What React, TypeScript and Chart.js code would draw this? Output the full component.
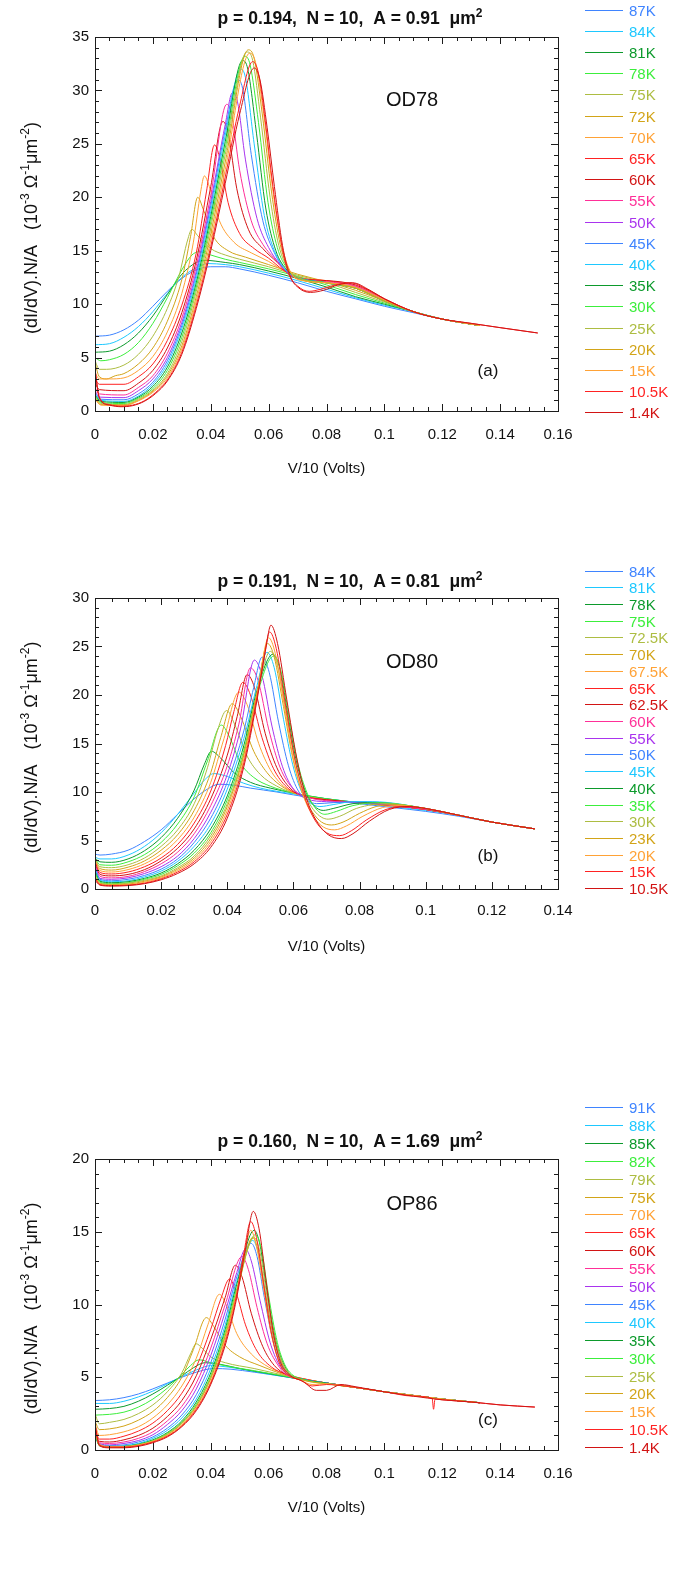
import React, { useEffect, useRef } from 'react';
import { Chart, registerables } from 'chart.js';

Chart.register(...registerables);

const FONT = '"Liberation Sans", Arial, Helvetica, sans-serif';
const PALETTE = ['#3f84ff', '#1ec8ff', '#0c9a2c', '#3cee3c', '#adbd42', '#d2a418', '#ffa236', '#ff2222', '#d21414', '#ff2f98', '#a934ee'];

type Pt = [number, number];

// ---------------- Panel (a) OD78 ----------------
const TEMPS_A = ['87K', '84K', '81K', '78K', '75K', '72K', '70K', '65K', '60K', '55K', '50K', '45K', '40K', '35K', '30K', '25K', '20K', '15K', '10.5K', '1.4K'];
const TAIL_A: Pt[] = [[0.11, 9.3], [0.12, 8.6], [0.133, 8.0]];
const TAIL_A_LONG: Pt[] = [[0.11, 9.3], [0.12, 8.6], [0.13, 8.2], [0.14, 7.8], [0.153, 7.3]];
const CURVES_A: Pt[][] = [
  [[0, 7.0], [0.005, 7.1], [0.01, 7.6], [0.015, 8.5], [0.02, 9.8], [0.025, 11.2], [0.03, 12.4], [0.035, 13.2], [0.04, 13.5], [0.045, 13.5], [0.05, 13.3], [0.06, 12.7], [0.07, 12.0], [0.08, 11.2], [0.09, 10.5], [0.1, 9.8], [0.11, 9.2], [0.12, 8.6], [0.133, 8.0]],
  [[0, 6.2], [0.005, 6.3], [0.01, 6.9], [0.015, 7.9], [0.02, 9.3], [0.025, 11.0], [0.03, 12.5], [0.035, 13.4], [0.039, 13.8], [0.045, 13.7], [0.05, 13.5], [0.06, 12.9], [0.07, 12.2], [0.08, 11.4], [0.09, 10.6], [0.1, 9.9], ...TAIL_A],
  [[0, 5.5], [0.005, 5.6], [0.01, 6.2], [0.015, 7.3], [0.02, 8.9], [0.025, 10.9], [0.03, 12.8], [0.035, 13.9], [0.038, 14.1], [0.045, 13.9], [0.05, 13.7], [0.06, 13.1], [0.07, 12.4], [0.08, 11.6], [0.09, 10.7], [0.1, 10.0], ...TAIL_A],
  [[0, 5.0], [0.002, 4.7], [0.005, 4.8], [0.01, 5.3], [0.015, 6.4], [0.02, 8.2], [0.025, 10.6], [0.03, 13.2], [0.0335, 14.6], [0.036, 14.9], [0.04, 14.6], [0.045, 14.2], [0.05, 13.9], [0.06, 13.3], [0.07, 12.6], [0.08, 11.8], [0.09, 10.9], [0.1, 10.1], ...TAIL_A],
  [[0, 4.7], [0.0015, 3.9], [0.004, 3.9], [0.01, 4.3], [0.015, 5.3], [0.02, 7.0], [0.025, 9.6], [0.029, 12.6], [0.032, 16.0], [0.0335, 17.0], [0.0355, 16.4], [0.04, 15.2], [0.045, 14.6], [0.05, 14.2], [0.06, 13.5], [0.07, 12.7], [0.08, 12.0], [0.09, 11.1], [0.1, 10.2], ...TAIL_A],
  [[0, 4.5], [0.0015, 3.2], [0.004, 3.0], [0.007, 3.3], [0.01, 3.5], [0.015, 4.4], [0.02, 5.9], [0.025, 8.4], [0.03, 12.3], [0.033, 16.3], [0.0355, 20.0], [0.0375, 18.8], [0.041, 16.3], [0.046, 15.0], [0.052, 14.4], [0.06, 13.7], [0.07, 12.8], [0.08, 12.1], [0.09, 11.3], [0.1, 10.3], ...TAIL_A],
  [[0, 3.6], [0.0015, 3.0], [0.005, 3.0], [0.01, 3.1], [0.015, 3.8], [0.02, 5.1], [0.025, 7.4], [0.03, 11.0], [0.034, 15.8], [0.0365, 20.5], [0.0378, 22.0], [0.0395, 21.0], [0.043, 17.8], [0.048, 15.8], [0.054, 14.8], [0.06, 14.0], [0.066, 13.0], [0.072, 12.4], [0.08, 12.2], [0.09, 11.5], [0.1, 10.3], ...TAIL_A],
  [[0, 3.0], [0.0015, 2.5], [0.01, 2.5], [0.015, 3.2], [0.02, 4.4], [0.025, 6.6], [0.03, 9.9], [0.035, 14.8], [0.0385, 20.5], [0.0413, 24.9], [0.043, 23.8], [0.046, 19.5], [0.05, 16.6], [0.055, 15.2], [0.06, 14.3], [0.065, 13.2], [0.07, 12.5], [0.08, 12.2], [0.09, 11.7], [0.1, 10.4], ...TAIL_A],
  [[0, 2.6], [0.0015, 2.0], [0.01, 1.9], [0.015, 2.6], [0.02, 3.8], [0.025, 5.9], [0.03, 9.2], [0.035, 14.1], [0.04, 21.0], [0.0442, 27.1], [0.046, 26.0], [0.049, 20.8], [0.053, 17.0], [0.058, 15.2], [0.063, 13.9], [0.067, 12.8], [0.072, 12.3], [0.08, 12.2], [0.09, 11.8], [0.1, 10.5], ...TAIL_A],
  [[0, 2.2], [0.0015, 1.6], [0.01, 1.5], [0.015, 2.2], [0.02, 3.3], [0.025, 5.4], [0.03, 8.7], [0.035, 13.6], [0.04, 20.2], [0.0455, 28.7], [0.0472, 27.8], [0.05, 22.5], [0.054, 17.8], [0.058, 15.6], [0.063, 14.0], [0.067, 12.8], [0.072, 12.3], [0.08, 12.1], [0.09, 11.7], [0.1, 10.4], ...TAIL_A],
  [[0, 1.9], [0.0015, 1.3], [0.01, 1.25], [0.015, 1.9], [0.02, 3.0], [0.025, 5.0], [0.03, 8.3], [0.035, 13.1], [0.04, 19.6], [0.045, 26.8], [0.0475, 29.8], [0.0492, 29.0], [0.052, 23.5], [0.056, 18.0], [0.06, 15.3], [0.064, 13.7], [0.068, 12.7], [0.08, 12.0], [0.09, 11.6], [0.1, 10.3], ...TAIL_A],
  [[0, 1.7], [0.002, 1.1], [0.01, 1.05], [0.015, 1.6], [0.02, 2.7], [0.025, 4.7], [0.03, 8.0], [0.035, 12.8], [0.04, 19.2], [0.045, 26.3], [0.0493, 31.0], [0.051, 30.2], [0.054, 24.0], [0.058, 17.8], [0.062, 14.8], [0.066, 13.1], [0.07, 12.5], [0.08, 12.0], [0.09, 11.5], [0.1, 10.3], ...TAIL_A],
  [[0, 1.6], [0.002, 1.0], [0.01, 0.9], [0.015, 1.4], [0.02, 2.5], [0.025, 4.4], [0.03, 7.7], [0.035, 12.4], [0.04, 18.7], [0.045, 25.8], [0.0503, 32.0], [0.052, 31.2], [0.055, 25.0], [0.0585, 18.3], [0.062, 15.0], [0.066, 13.2], [0.07, 12.5], [0.08, 12.0], [0.09, 11.5], [0.1, 10.3], ...TAIL_A],
  [[0, 1.5], [0.002, 0.9], [0.01, 0.8], [0.015, 1.3], [0.02, 2.3], [0.025, 4.1], [0.03, 7.3], [0.035, 12.0], [0.04, 18.2], [0.045, 25.2], [0.051, 32.8], [0.0528, 32.0], [0.0558, 26.0], [0.059, 19.0], [0.0625, 15.0], [0.066, 13.3], [0.07, 12.5], [0.08, 12.0], [0.09, 11.5], [0.1, 10.3], ...TAIL_A],
  [[0, 1.4], [0.002, 0.8], [0.01, 0.7], [0.015, 1.2], [0.02, 2.1], [0.025, 3.8], [0.03, 6.9], [0.035, 11.6], [0.04, 17.7], [0.045, 24.6], [0.0518, 33.2], [0.0536, 32.4], [0.0565, 27.0], [0.0598, 19.5], [0.063, 15.3], [0.0665, 13.3], [0.07, 12.5], [0.08, 12.0], [0.09, 11.5], [0.1, 10.3], ...TAIL_A],
  [[0, 1.3], [0.002, 0.7], [0.01, 0.6], [0.015, 1.1], [0.02, 1.95], [0.025, 3.5], [0.03, 6.5], [0.035, 11.2], [0.04, 17.2], [0.045, 24.0], [0.0525, 33.6], [0.0545, 32.8], [0.0572, 27.5], [0.0605, 20.0], [0.0635, 15.5], [0.067, 13.2], [0.071, 12.4], [0.08, 12.0], [0.09, 11.5], [0.1, 10.3], ...TAIL_A],
  [[0, 1.2], [0.002, 0.6], [0.01, 0.55], [0.015, 1.0], [0.02, 1.85], [0.025, 3.3], [0.03, 6.1], [0.035, 10.7], [0.04, 16.6], [0.045, 23.3], [0.053, 33.8], [0.055, 33.0], [0.0578, 27.8], [0.061, 20.5], [0.064, 15.6], [0.0675, 13.0], [0.072, 12.2], [0.08, 12.0], [0.09, 11.5], [0.1, 10.3], ...TAIL_A],
  [[0, 1.1], [0.002, 0.55], [0.01, 0.5], [0.015, 0.95], [0.02, 1.75], [0.025, 3.1], [0.03, 5.8], [0.035, 10.3], [0.04, 16.0], [0.045, 22.6], [0.0535, 33.5], [0.0555, 32.6], [0.0583, 27.8], [0.0613, 21.0], [0.0643, 15.8], [0.0678, 12.9], [0.072, 12.2], [0.08, 12.0], [0.09, 11.6], [0.1, 10.4], ...TAIL_A],
  [[0, 4.0], [0.0015, 1.3], [0.005, 0.6], [0.009, 0.45], [0.013, 0.55], [0.017, 0.95], [0.021, 1.75], [0.025, 2.9], [0.03, 5.5], [0.035, 9.9], [0.04, 15.4], [0.045, 21.9], [0.05, 28.6], [0.0545, 32.7], [0.0565, 31.6], [0.0588, 27.2], [0.0615, 21.0], [0.0645, 15.5], [0.067, 12.8], [0.07, 11.7], [0.074, 11.2], [0.078, 11.4], [0.083, 11.8], [0.088, 12.0], [0.094, 11.4], [0.1, 10.5], ...TAIL_A_LONG],
  [[0, 3.8], [0.0015, 1.2], [0.005, 0.55], [0.009, 0.4], [0.013, 0.5], [0.017, 0.9], [0.021, 1.65], [0.025, 2.8], [0.03, 5.3], [0.035, 9.6], [0.04, 15.0], [0.045, 21.3], [0.05, 27.8], [0.055, 32.1], [0.057, 31.0], [0.0595, 26.5], [0.062, 21.0], [0.0648, 15.5], [0.0675, 12.6], [0.0705, 11.5], [0.0745, 11.1], [0.079, 11.3], [0.084, 11.8], [0.089, 12.0], [0.095, 11.3], [0.1, 10.5], ...TAIL_A_LONG],
];

// ---------------- Panel (b) OD80 ----------------
const TEMPS_B = ['84K', '81K', '78K', '75K', '72.5K', '70K', '67.5K', '65K', '62.5K', '60K', '55K', '50K', '45K', '40K', '35K', '30K', '23K', '20K', '15K', '10.5K'];
const TAIL_B: Pt[] = [[0.11, 7.6], [0.12, 6.9], [0.133, 6.2]];
const CURVES_B: Pt[][] = [
  [[0, 3.6], [0.0015, 3.5], [0.005, 3.6], [0.01, 4.0], [0.015, 4.9], [0.02, 6.1], [0.025, 7.7], [0.03, 9.3], [0.034, 10.3], [0.0375, 10.8], [0.042, 10.7], [0.047, 10.4], [0.055, 10.0], [0.06, 9.7], [0.07, 9.2], [0.08, 8.8], [0.09, 8.4], [0.1, 8.0], [0.11, 7.5], [0.12, 6.9], [0.133, 6.2]],
  [[0, 3.3], [0.0015, 3.1], [0.005, 3.1], [0.01, 3.5], [0.015, 4.4], [0.02, 5.8], [0.025, 7.7], [0.03, 9.9], [0.033, 11.2], [0.036, 11.9], [0.04, 11.6], [0.045, 10.9], [0.05, 10.4], [0.06, 9.8], [0.07, 9.3], [0.08, 8.9], [0.09, 8.5], [0.1, 8.1], ...TAIL_B],
  [[0, 3.2], [0.0015, 2.8], [0.005, 2.75], [0.01, 3.1], [0.015, 3.95], [0.02, 5.3], [0.025, 7.3], [0.03, 10.2], [0.033, 12.8], [0.0352, 14.2], [0.038, 13.5], [0.042, 12.0], [0.047, 11.0], [0.053, 10.4], [0.06, 9.9], [0.07, 9.3], [0.08, 8.9], [0.09, 8.6], [0.1, 8.2], ...TAIL_B],
  [[0, 3.2], [0.0015, 2.5], [0.005, 2.45], [0.01, 2.8], [0.015, 3.55], [0.02, 4.8], [0.025, 6.7], [0.03, 9.5], [0.034, 13.2], [0.0382, 16.9], [0.0405, 15.8], [0.044, 13.0], [0.048, 11.5], [0.053, 10.6], [0.06, 9.9], [0.07, 9.3], [0.08, 8.9], [0.09, 8.6], [0.1, 8.2], ...TAIL_B],
  [[0, 3.1], [0.0015, 2.3], [0.005, 2.2], [0.01, 2.5], [0.015, 3.2], [0.02, 4.4], [0.025, 6.1], [0.03, 8.8], [0.034, 12.5], [0.037, 16.3], [0.0398, 18.4], [0.0422, 17.0], [0.046, 13.7], [0.05, 11.8], [0.055, 10.6], [0.06, 9.9], [0.07, 9.2], [0.08, 8.9], [0.09, 8.6], [0.1, 8.2], ...TAIL_B],
  [[0, 3.0], [0.0015, 2.1], [0.005, 1.95], [0.01, 2.25], [0.015, 2.9], [0.02, 4.0], [0.025, 5.6], [0.03, 8.1], [0.035, 12.0], [0.038, 15.6], [0.0415, 19.1], [0.044, 17.8], [0.048, 14.2], [0.052, 12.0], [0.056, 10.7], [0.061, 9.8], [0.07, 9.2], [0.08, 8.9], [0.09, 8.6], [0.1, 8.2], ...TAIL_B],
  [[0, 2.9], [0.0015, 1.9], [0.005, 1.75], [0.01, 2.0], [0.015, 2.6], [0.02, 3.6], [0.025, 5.1], [0.03, 7.4], [0.035, 11.0], [0.039, 15.5], [0.0435, 20.3], [0.046, 19.0], [0.0495, 15.0], [0.053, 12.3], [0.057, 10.6], [0.062, 9.7], [0.07, 9.2], [0.08, 8.9], [0.09, 8.6], [0.1, 8.2], ...TAIL_B],
  [[0, 2.8], [0.0015, 1.7], [0.005, 1.55], [0.01, 1.75], [0.015, 2.3], [0.02, 3.2], [0.025, 4.6], [0.03, 6.8], [0.035, 10.1], [0.0395, 14.8], [0.042, 18.3], [0.0447, 21.3], [0.047, 20.0], [0.0505, 15.6], [0.054, 12.4], [0.058, 10.5], [0.063, 9.6], [0.07, 9.2], [0.08, 8.9], [0.09, 8.6], [0.1, 8.2], ...TAIL_B],
  [[0, 2.6], [0.0015, 1.5], [0.005, 1.35], [0.01, 1.5], [0.015, 2.0], [0.02, 2.9], [0.025, 4.2], [0.03, 6.2], [0.035, 9.3], [0.04, 13.8], [0.043, 17.8], [0.046, 22.1], [0.0482, 20.8], [0.0515, 16.0], [0.055, 12.5], [0.059, 10.4], [0.064, 9.5], [0.07, 9.2], [0.08, 8.9], [0.09, 8.6], [0.1, 8.2], ...TAIL_B],
  [[0, 2.5], [0.0015, 1.3], [0.005, 1.15], [0.01, 1.3], [0.015, 1.8], [0.02, 2.6], [0.025, 3.8], [0.03, 5.7], [0.035, 8.6], [0.04, 12.7], [0.0435, 17.0], [0.047, 22.8], [0.0493, 21.5], [0.0525, 16.5], [0.056, 12.5], [0.06, 10.3], [0.065, 9.4], [0.07, 9.1], [0.08, 8.9], [0.09, 8.6], [0.1, 8.2], ...TAIL_B],
  [[0, 2.3], [0.0015, 1.1], [0.005, 1.0], [0.01, 1.15], [0.015, 1.6], [0.02, 2.3], [0.025, 3.4], [0.03, 5.2], [0.035, 7.9], [0.04, 11.8], [0.044, 16.5], [0.0482, 23.6], [0.0505, 22.0], [0.0535, 16.8], [0.0567, 12.6], [0.06, 10.3], [0.064, 9.3], [0.07, 9.0], [0.08, 8.9], [0.09, 8.7], [0.1, 8.3], ...TAIL_B],
  [[0, 2.2], [0.0015, 1.0], [0.005, 0.85], [0.01, 1.0], [0.015, 1.4], [0.02, 2.05], [0.025, 3.1], [0.03, 4.8], [0.035, 7.3], [0.04, 11.0], [0.045, 16.3], [0.048, 20.8], [0.0505, 23.9], [0.0527, 22.3], [0.0555, 17.2], [0.0585, 12.7], [0.0615, 10.1], [0.0645, 9.1], [0.067, 8.8], [0.072, 8.9], [0.08, 9.0], [0.09, 8.8], [0.1, 8.3], ...TAIL_B],
  [[0, 2.0], [0.0015, 0.9], [0.005, 0.75], [0.01, 0.85], [0.015, 1.25], [0.02, 1.85], [0.025, 2.85], [0.03, 4.4], [0.035, 6.7], [0.04, 10.3], [0.045, 15.5], [0.049, 21.0], [0.052, 24.4], [0.0542, 22.8], [0.057, 17.5], [0.0598, 12.8], [0.0625, 10.0], [0.065, 8.9], [0.068, 8.5], [0.072, 8.7], [0.078, 9.0], [0.084, 9.0], [0.1, 8.3], ...TAIL_B],
  [[0, 1.8], [0.0015, 0.8], [0.005, 0.65], [0.01, 0.75], [0.015, 1.1], [0.02, 1.65], [0.025, 2.6], [0.03, 4.0], [0.035, 6.2], [0.04, 9.6], [0.045, 14.8], [0.049, 20.5], [0.0538, 24.2], [0.056, 22.6], [0.0585, 17.6], [0.061, 13.0], [0.0637, 10.0], [0.0662, 8.6], [0.069, 8.1], [0.072, 8.3], [0.078, 8.8], [0.084, 8.9], [0.1, 8.3], ...TAIL_B],
  [[0, 1.6], [0.0015, 0.7], [0.005, 0.55], [0.01, 0.65], [0.015, 1.0], [0.02, 1.5], [0.025, 2.4], [0.03, 3.7], [0.035, 5.8], [0.04, 9.2], [0.045, 14.3], [0.049, 20.0], [0.054, 24.0], [0.0562, 22.5], [0.0588, 17.5], [0.0613, 13.0], [0.064, 10.0], [0.0665, 8.4], [0.0695, 7.7], [0.073, 8.0], [0.078, 8.6], [0.086, 8.9], [0.1, 8.3], ...TAIL_B],
  [[0, 1.4], [0.0015, 0.6], [0.005, 0.5], [0.01, 0.6], [0.015, 0.9], [0.02, 1.35], [0.025, 2.2], [0.03, 3.4], [0.035, 5.5], [0.04, 8.8], [0.045, 14.0], [0.049, 20.2], [0.053, 24.5], [0.0552, 23.0], [0.058, 17.8], [0.0605, 13.2], [0.0632, 10.0], [0.066, 8.2], [0.0685, 7.4], [0.0705, 7.2], [0.074, 7.5], [0.079, 8.3], [0.084, 8.7], [0.088, 8.8], [0.1, 8.3], ...TAIL_B],
  [[0, 1.3], [0.0015, 0.55], [0.005, 0.45], [0.01, 0.5], [0.015, 0.8], [0.02, 1.25], [0.025, 2.05], [0.03, 3.2], [0.035, 5.2], [0.04, 8.5], [0.045, 13.8], [0.049, 20.3], [0.0522, 25.3], [0.0542, 23.9], [0.057, 18.8], [0.0598, 13.5], [0.0628, 9.8], [0.0658, 7.9], [0.0685, 6.9], [0.0715, 6.6], [0.075, 6.9], [0.08, 7.8], [0.085, 8.5], [0.09, 8.7], [0.1, 8.3], ...TAIL_B],
  [[0, 1.2], [0.0015, 0.5], [0.005, 0.4], [0.01, 0.45], [0.015, 0.7], [0.02, 1.15], [0.025, 1.9], [0.03, 3.0], [0.035, 4.9], [0.04, 8.1], [0.045, 13.4], [0.049, 20.0], [0.0525, 25.9], [0.0545, 24.3], [0.0572, 19.0], [0.06, 13.4], [0.063, 9.6], [0.066, 7.5], [0.069, 6.4], [0.0725, 6.1], [0.076, 6.5], [0.081, 7.5], [0.087, 8.4], [0.092, 8.6], [0.1, 8.3], ...TAIL_B],
  [[0, 1.1], [0.0015, 0.45], [0.005, 0.35], [0.01, 0.4], [0.015, 0.6], [0.02, 1.05], [0.025, 1.75], [0.03, 2.8], [0.035, 4.6], [0.04, 7.7], [0.045, 13.0], [0.049, 19.8], [0.0512, 24.0], [0.0528, 26.5], [0.0548, 24.8], [0.0575, 19.2], [0.0605, 13.3], [0.0635, 9.4], [0.0665, 7.1], [0.07, 5.8], [0.074, 5.5], [0.0775, 6.0], [0.082, 7.1], [0.088, 8.2], [0.094, 8.5], [0.1, 8.3], ...TAIL_B],
  [[0, 0.9], [0.0015, 0.4], [0.005, 0.3], [0.01, 0.35], [0.015, 0.55], [0.02, 0.95], [0.025, 1.6], [0.03, 2.6], [0.035, 4.3], [0.04, 7.3], [0.045, 12.6], [0.049, 19.5], [0.0515, 24.5], [0.0532, 27.2], [0.0552, 25.3], [0.058, 19.5], [0.061, 13.5], [0.064, 9.3], [0.067, 7.0], [0.0705, 5.6], [0.0745, 5.2], [0.078, 5.7], [0.083, 7.0], [0.089, 8.2], [0.095, 8.5], [0.1, 8.3], ...TAIL_B],
];

// ---------------- Panel (c) OP86 ----------------
const TEMPS_C = ['91K', '88K', '85K', '82K', '79K', '75K', '70K', '65K', '60K', '55K', '50K', '45K', '40K', '35K', '30K', '25K', '20K', '15K', '10.5K', '1.4K'];
const TAIL_C: Pt[] = [[0.09, 4.3], [0.1, 4.0], [0.11, 3.75], [0.12, 3.5], [0.133, 3.25]];
const CURVES_C: Pt[][] = [
  [[0, 3.4], [0.005, 3.45], [0.01, 3.6], [0.015, 3.85], [0.02, 4.2], [0.025, 4.6], [0.03, 5.0], [0.035, 5.35], [0.041, 5.6], [0.047, 5.55], [0.055, 5.35], [0.062, 5.15], [0.07, 4.9], [0.08, 4.6], ...TAIL_C],
  [[0, 3.2], [0.005, 3.2], [0.01, 3.35], [0.015, 3.65], [0.02, 4.05], [0.025, 4.55], [0.03, 5.05], [0.035, 5.5], [0.04, 5.8], [0.046, 5.7], [0.055, 5.4], [0.062, 5.15], [0.07, 4.9], [0.08, 4.6], ...TAIL_C],
  [[0, 2.8], [0.005, 2.85], [0.01, 3.0], [0.015, 3.35], [0.02, 3.85], [0.025, 4.45], [0.03, 5.1], [0.034, 5.65], [0.038, 6.0], [0.043, 5.9], [0.05, 5.6], [0.06, 5.25], [0.07, 4.9], [0.08, 4.6], ...TAIL_C],
  [[0, 2.4], [0.005, 2.45], [0.01, 2.6], [0.015, 2.95], [0.02, 3.5], [0.025, 4.25], [0.03, 5.2], [0.033, 5.8], [0.036, 6.2], [0.04, 6.0], [0.046, 5.75], [0.055, 5.45], [0.065, 5.1], [0.07, 4.9], [0.08, 4.6], ...TAIL_C],
  [[0, 2.5], [0.0015, 1.8], [0.005, 1.9], [0.01, 2.1], [0.015, 2.5], [0.02, 3.1], [0.025, 4.0], [0.03, 5.3], [0.033, 6.6], [0.035, 7.3], [0.037, 7.0], [0.04, 6.4], [0.045, 6.0], [0.055, 5.6], [0.065, 5.15], [0.07, 4.95], [0.08, 4.6], ...TAIL_C],
  [[0, 2.0], [0.0015, 1.4], [0.005, 1.45], [0.01, 1.65], [0.015, 2.05], [0.02, 2.65], [0.025, 3.6], [0.03, 5.0], [0.034, 6.9], [0.0385, 9.1], [0.041, 8.5], [0.045, 7.2], [0.05, 6.4], [0.057, 5.8], [0.065, 5.2], [0.07, 4.95], [0.08, 4.6], ...TAIL_C],
  [[0, 1.8], [0.0015, 1.0], [0.005, 1.05], [0.01, 1.25], [0.015, 1.6], [0.02, 2.2], [0.025, 3.1], [0.03, 4.4], [0.035, 6.3], [0.039, 8.6], [0.043, 10.7], [0.0455, 9.9], [0.049, 8.0], [0.054, 6.6], [0.06, 5.7], [0.066, 5.2], [0.072, 4.9], [0.08, 4.6], ...TAIL_C],
  [[0, 1.5], [0.0015, 0.75], [0.005, 0.75], [0.01, 0.95], [0.015, 1.3], [0.02, 1.85], [0.025, 2.7], [0.03, 3.9], [0.035, 5.7], [0.04, 8.3], [0.0435, 10.4], [0.0465, 11.75], [0.0488, 10.8], [0.052, 8.6], [0.056, 6.8], [0.061, 5.7], [0.066, 5.2], [0.072, 4.9], [0.08, 4.6], ...TAIL_C],
  [[0, 1.3], [0.0015, 0.6], [0.005, 0.55], [0.01, 0.7], [0.015, 1.0], [0.02, 1.5], [0.025, 2.3], [0.03, 3.4], [0.035, 5.1], [0.04, 7.6], [0.045, 10.5], [0.0485, 12.7], [0.0508, 11.9], [0.054, 9.4], [0.058, 7.1], [0.062, 5.8], [0.066, 5.2], [0.072, 4.85], [0.08, 4.6], ...TAIL_C],
  [[0, 1.2], [0.0015, 0.5], [0.005, 0.45], [0.01, 0.55], [0.015, 0.8], [0.02, 1.25], [0.025, 2.0], [0.03, 3.0], [0.035, 4.6], [0.04, 7.0], [0.045, 10.0], [0.0508, 13.3], [0.053, 12.4], [0.056, 9.8], [0.0595, 7.3], [0.063, 5.9], [0.066, 5.2], [0.072, 4.85], [0.08, 4.6], ...TAIL_C],
  [[0, 1.1], [0.0015, 0.45], [0.005, 0.35], [0.01, 0.45], [0.015, 0.65], [0.02, 1.05], [0.025, 1.75], [0.03, 2.7], [0.035, 4.2], [0.04, 6.5], [0.045, 9.5], [0.049, 12.2], [0.052, 13.8], [0.054, 13.0], [0.057, 10.3], [0.0605, 7.4], [0.0635, 5.9], [0.0665, 5.2], [0.072, 4.85], [0.08, 4.6], ...TAIL_C],
  [[0, 1.0], [0.0015, 0.4], [0.005, 0.3], [0.01, 0.35], [0.015, 0.55], [0.02, 0.9], [0.025, 1.5], [0.03, 2.4], [0.035, 3.8], [0.04, 6.0], [0.045, 9.0], [0.049, 11.9], [0.054, 14.2], [0.056, 13.3], [0.0585, 10.5], [0.0615, 7.5], [0.064, 6.0], [0.067, 5.2], [0.072, 4.85], [0.08, 4.6], ...TAIL_C],
  [[0, 1.0], [0.0015, 0.35], [0.005, 0.25], [0.01, 0.3], [0.015, 0.45], [0.02, 0.8], [0.025, 1.35], [0.03, 2.2], [0.035, 3.5], [0.04, 5.6], [0.045, 8.6], [0.049, 11.6], [0.0545, 14.4], [0.0565, 13.5], [0.059, 10.6], [0.062, 7.5], [0.0645, 6.0], [0.0672, 5.2], [0.072, 4.85], [0.08, 4.6], ...TAIL_C],
  [[0, 1.1], [0.0015, 0.3], [0.005, 0.2], [0.01, 0.25], [0.015, 0.4], [0.02, 0.7], [0.025, 1.2], [0.03, 2.0], [0.035, 3.3], [0.04, 5.3], [0.045, 8.3], [0.049, 11.4], [0.055, 15.1], [0.057, 14.1], [0.0595, 10.8], [0.0625, 7.5], [0.065, 6.0], [0.0675, 5.2], [0.072, 4.85], [0.08, 4.6], ...TAIL_C],
  [[0, 1.2], [0.0015, 0.3], [0.005, 0.2], [0.01, 0.22], [0.015, 0.38], [0.02, 0.65], [0.025, 1.15], [0.03, 1.9], [0.035, 3.15], [0.04, 5.1], [0.045, 8.1], [0.049, 11.1], [0.0555, 14.8], [0.0575, 13.8], [0.06, 10.6], [0.063, 7.4], [0.0655, 5.9], [0.068, 5.2], [0.072, 4.85], [0.08, 4.55], ...TAIL_C],
  [[0, 1.3], [0.0015, 0.3], [0.005, 0.18], [0.01, 0.2], [0.015, 0.35], [0.02, 0.62], [0.025, 1.1], [0.03, 1.85], [0.035, 3.05], [0.04, 5.0], [0.045, 7.9], [0.049, 10.9], [0.055, 14.6], [0.057, 13.6], [0.0595, 10.5], [0.0625, 7.4], [0.065, 5.9], [0.0675, 5.2], [0.072, 4.8], [0.08, 4.55], ...TAIL_C],
  [[0, 1.4], [0.0015, 0.35], [0.005, 0.18], [0.01, 0.18], [0.015, 0.32], [0.02, 0.58], [0.025, 1.05], [0.03, 1.8], [0.035, 3.0], [0.04, 4.9], [0.045, 7.8], [0.049, 10.8], [0.0545, 14.6], [0.0565, 13.6], [0.059, 10.6], [0.062, 7.5], [0.0645, 6.0], [0.067, 5.2], [0.072, 4.8], [0.08, 4.55], ...TAIL_C],
  [[0, 1.6], [0.0015, 0.4], [0.005, 0.25], [0.01, 0.25], [0.015, 0.35], [0.02, 0.6], [0.025, 1.0], [0.03, 1.7], [0.035, 2.9], [0.04, 4.7], [0.045, 7.6], [0.0485, 10.4], [0.0515, 13.4], [0.0538, 15.1], [0.0558, 14.0], [0.0582, 11.2], [0.0608, 8.1], [0.0635, 6.1], [0.0665, 5.2], [0.071, 4.8], [0.075, 4.5], [0.08, 4.55], ...TAIL_C],
  [[0, 1.7], [0.0015, 0.35], [0.005, 0.2], [0.01, 0.2], [0.015, 0.3], [0.02, 0.55], [0.025, 0.95], [0.03, 1.65], [0.035, 2.8], [0.04, 4.6], [0.045, 7.4], [0.0485, 10.2], [0.0515, 13.6], [0.0538, 15.7], [0.0558, 14.6], [0.0582, 11.5], [0.0608, 8.2], [0.0635, 6.1], [0.0665, 5.2], [0.071, 4.8], [0.075, 4.4], [0.08, 4.5], [0.09, 4.3], [0.1, 4.0], [0.11, 3.7], [0.1165, 3.55], [0.117, 2.8], [0.1175, 3.5], [0.12, 3.45], [0.13, 3.3], [0.14, 3.1], [0.152, 2.95]],
  [[0, 1.8], [0.0015, 0.3], [0.005, 0.15], [0.01, 0.15], [0.015, 0.25], [0.02, 0.5], [0.025, 0.9], [0.03, 1.6], [0.035, 2.7], [0.04, 4.5], [0.045, 7.2], [0.0485, 10.0], [0.052, 13.8], [0.0547, 16.4], [0.0567, 15.2], [0.059, 11.8], [0.0615, 8.2], [0.064, 6.1], [0.067, 5.2], [0.072, 4.7], [0.0765, 4.1], [0.08, 4.1], [0.085, 4.5], [0.09, 4.35], [0.1, 4.0], [0.11, 3.7], [0.12, 3.45], [0.13, 3.3], [0.14, 3.1], [0.152, 2.95]],
];

type Part = [string, boolean];
type Panel = {
  key: string; top: number; height: number; areaTop: number; areaBottom: number;
  xMax: number; yMax: number; temps: string[]; curves: Pt[][];
  title: Part[]; titleY: number; tag: string; tagY: number; letter: string; letterY: number;
  legendTop: number; legendStep: number; xTickPad: number;
};

const Y_TITLE: Part[] = [['(dI/dV).N/A   (10', false], ['-3', true], [' Ω', false], ['-1', true], ['μm', false], ['-2', true], [')', false]];

const PANELS: Panel[] = [
  { key: 'a', top: 0, height: 525, areaTop: 37, areaBottom: 411, xMax: 0.16, yMax: 35, temps: TEMPS_A, curves: CURVES_A,
    title: [['p = 0.194,  N = 10,  A = 0.91  μm', false], ['2', true]], titleY: 18, tag: 'OD78', tagY: 100, letter: '(a)', letterY: 371,
    legendTop: 9.5, legendStep: 21.2, xTickPad: 15 },
  { key: 'b', top: 525, height: 560, areaTop: 598, areaBottom: 889, xMax: 0.14, yMax: 30, temps: TEMPS_B, curves: CURVES_B,
    title: [['p = 0.191,  N = 10,  A = 0.81  μm', false], ['2', true]], titleY: 581, tag: 'OD80', tagY: 662, letter: '(b)', letterY: 856,
    legendTop: 570.5, legendStep: 16.72, xTickPad: 13 },
  { key: 'c', top: 1085, height: 491, areaTop: 1159, areaBottom: 1450, xMax: 0.16, yMax: 20, temps: TEMPS_C, curves: CURVES_C,
    title: [['p = 0.160,  N = 10,  A = 1.69  μm', false], ['2', true]], titleY: 1141, tag: 'OP86', tagY: 1204, letter: '(c)', letterY: 1420,
    legendTop: 1107, legendStep: 17.9, xTickPad: 15 },
];

function drawRich(ctx: CanvasRenderingContext2D, parts: Part[], x: number, baseline: number, size: number, bold: boolean) {
  const w = bold ? 'bold ' : '';
  const normal = `${w}${size}px ${FONT}`;
  const sup = `${w}${Math.round(size * 0.68)}px ${FONT}`;
  let total = 0;
  for (const [t, s] of parts) { ctx.font = s ? sup : normal; total += ctx.measureText(t).width; }
  let cx = x - total / 2;
  ctx.textAlign = 'left';
  ctx.textBaseline = 'alphabetic';
  for (const [t, s] of parts) {
    ctx.font = s ? sup : normal;
    ctx.fillText(t, cx, s ? baseline - size * 0.42 : baseline);
    cx += ctx.measureText(t).width;
  }
}

const decoPlugin = {
  id: 'deco',
  afterDraw(chart: any, _args: any, opts: any) {
    const p: Panel = opts.panel;
    const off = p.top;
    const { ctx, chartArea } = chart;
    const L = Math.round(chartArea.left), R = Math.round(chartArea.right);
    const T = Math.round(chartArea.top), B = Math.round(chartArea.bottom);
    const xs = chart.scales.x, ys = chart.scales.y;
    ctx.save();
    ctx.strokeStyle = '#1c1c1c';
    ctx.lineWidth = 1;
    ctx.strokeRect(L + 0.5, T + 0.5, R - L, B - T);
    ctx.beginPath();
    const nx = Math.round(p.xMax / 0.005);
    for (let i = 0; i <= nx; i++) {
      const len = i % 4 === 0 ? 7 : 4;
      const px = Math.round(xs.getPixelForValue(i * 0.005)) + 0.5;
      ctx.moveTo(px, B); ctx.lineTo(px, B - len);
      ctx.moveTo(px, T); ctx.lineTo(px, T + len);
    }
    for (let i = 0; i <= p.yMax; i++) {
      const len = i % 5 === 0 ? 7 : 4;
      const py = Math.round(ys.getPixelForValue(i)) + 0.5;
      ctx.moveTo(L, py); ctx.lineTo(L + len, py);
      ctx.moveTo(R, py); ctx.lineTo(R - len, py);
    }
    ctx.stroke();

    ctx.fillStyle = '#111';
    drawRich(ctx, p.title, 350, p.titleY - off + 6, 17.5, true);
    drawRich(ctx, [['V/10 (Volts)', false]], (L + R) / 2, B + 62, 15, false);
    ctx.save();
    ctx.translate(31, (T + B) / 2 + 4);
    ctx.rotate(-Math.PI / 2);
    drawRich(ctx, Y_TITLE, 0, 6, 18, false);
    ctx.restore();
    ctx.font = `20px ${FONT}`;
    ctx.textAlign = 'center';
    ctx.textBaseline = 'middle';
    ctx.fillText(p.tag, 412, p.tagY - off);
    ctx.font = `17px ${FONT}`;
    ctx.fillText(p.letter, 488, p.letterY - off);

    ctx.textAlign = 'left';
    ctx.font = `15px ${FONT}`;
    chart.data.datasets.forEach((ds: any, i: number) => {
      const y = Math.round(p.legendTop + i * p.legendStep - off) + 0.5;
      ctx.strokeStyle = ds.borderColor;
      ctx.beginPath();
      ctx.moveTo(585, y); ctx.lineTo(623, y);
      ctx.stroke();
      ctx.fillStyle = ds.borderColor;
      ctx.fillText(ds.label, 629, y + 1);
    });
    ctx.restore();
  },
};

function PanelChart({ panel }: { panel: Panel }) {
  const ref = useRef<HTMLCanvasElement>(null);
  useEffect(() => {
    const n = panel.curves.length;
    const chart = new Chart(ref.current as HTMLCanvasElement, {
      type: 'line',
      data: {
        datasets: panel.curves.map((pts, i) => ({
          label: panel.temps[i],
          data: pts.map(([x, y]) => ({ x, y })),
          borderColor: PALETTE[i % PALETTE.length],
          backgroundColor: PALETTE[i % PALETTE.length],
          borderWidth: 1,
          pointRadius: 0,
          fill: false,
          cubicInterpolationMode: 'monotone' as const,
          order: n - 1 - i,
        })),
      },
      options: {
        animation: false,
        responsive: false,
        maintainAspectRatio: false,
        events: [],
        layout: {
          padding: {
            left: 0,
            right: 673 - 558,
            top: panel.areaTop - panel.top,
            bottom: panel.height - (panel.areaBottom - panel.top) - 70,
          },
        },
        plugins: {
          legend: { display: false },
          title: { display: false },
          tooltip: { enabled: false },
          deco: { panel },
        } as any,
        scales: {
          x: {
            type: 'linear',
            min: 0,
            max: panel.xMax,
            grid: { display: false, drawTicks: false },
            border: { display: false },
            ticks: {
              stepSize: 0.02,
              autoSkip: false,
              maxRotation: 0,
              padding: panel.xTickPad,
              color: '#111',
              font: { family: FONT, size: 15 },
              callback: (v: any) => String(Number(Number(v).toFixed(3))),
            },
            afterFit: (s: any) => { s.height = 70; },
          },
          y: {
            type: 'linear',
            min: 0,
            max: panel.yMax,
            grid: { display: false, drawTicks: false },
            border: { display: false },
            ticks: {
              stepSize: 5,
              autoSkip: false,
              padding: 6,
              color: '#111',
              font: { family: FONT, size: 15 },
              callback: (v: any) => String(v),
            },
            afterFit: (s: any) => { s.width = 95; },
          },
        },
      },
      plugins: [decoPlugin],
    } as any);
    return () => chart.destroy();
  }, [panel]);
  return (
    <canvas
      ref={ref}
      width={673}
      height={panel.height}
      style={{ position: 'absolute', left: 0, top: panel.top, width: 673, height: panel.height }}
    />
  );
}

export default function App() {
  return (
    <div style={{ position: 'absolute', left: 0, top: 0, width: 673, height: 1576, background: '#fff', overflow: 'hidden' }}>
      {PANELS.map((p) => (
        <PanelChart key={p.key} panel={p} />
      ))}
    </div>
  );
}
